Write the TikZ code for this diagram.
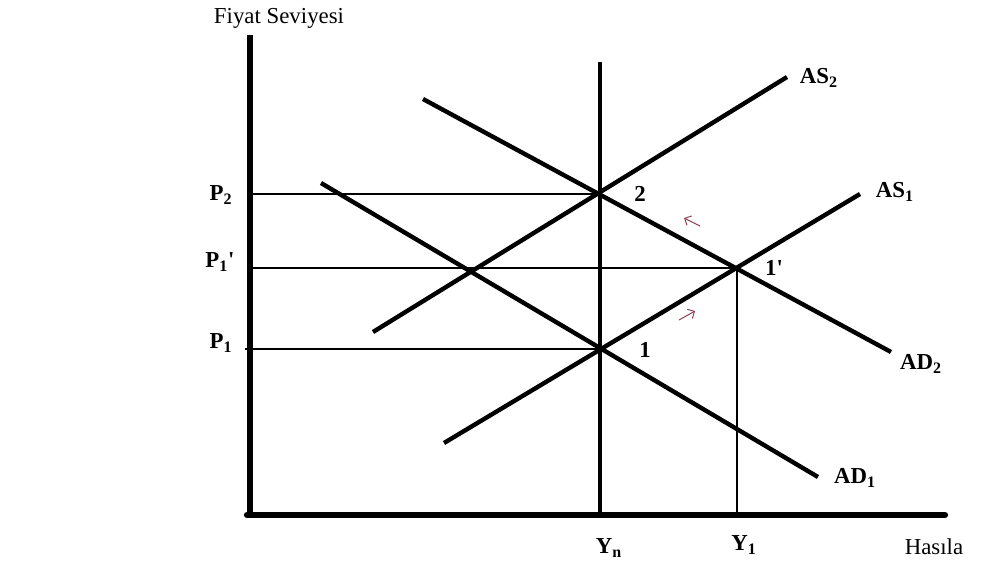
\documentclass[tikz,border=0pt]{standalone}
\usepackage{fontspec}
\setmainfont{Liberation Serif}
\usepackage{tikz}
\usetikzlibrary{arrows.meta}
\definecolor{arrowred}{HTML}{8E3B4F}

\begin{document}
\begin{tikzpicture}[x=0.2mm,y=-0.2mm,>=Stealth,
 axis/.style={line width=3.6pt,draw=black},
 curve/.style={line width=2.5pt,draw=black},
 guide/.style={line width=0.7pt,draw=black},
 lbl/.style={font=\fontsize{13}{15}\selectfont\bfseries,inner sep=1pt},
 txt/.style={font=\fontsize{13}{15}\selectfont,inner sep=1pt},
 drift/.style={->,line width=0.55pt,draw=arrowred,>={Straight Barb[length=3pt]}}]
\useasboundingbox (0,0) rectangle (988,569);
% axes
\coordinate (ytop) at (250,35);
\coordinate (orig) at (250,515);
\coordinate (xend) at (945,515);
\draw[axis] (ytop) -- (orig);
\draw[axis,line cap=round] (247,515) -- (xend);
\node[txt] (yname) at (279,18) {Fiyat Seviyesi};
\node[txt] (xname) at (934,547) {Hasıla};
% equilibrium points
\coordinate (e1) at (600,349);
\coordinate (e2) at (600,194);
\coordinate (e1p) at (737,268);
% potential output
\coordinate (yntop) at (600,62);
\coordinate (ynbot) at (600,515);
\draw[line width=2.1pt] (yntop) -- (ynbot);
% guide lines
\coordinate (p2) at (250,194);
\coordinate (p1p) at (250,268);
\coordinate (p1) at (245,349);
\coordinate (y1) at (737,515);
\draw[guide] (p2) -- (e2);
\draw[guide] (p1p) -- (e1p);
\draw[guide] (p1) -- (e1);
\draw[guide] (e1p) -- (y1);
% curves
\coordinate (as1a) at (444,443);
\coordinate (as1b) at (860,194);
\coordinate (as2a) at (373,332);
\coordinate (as2b) at (787,77);
\coordinate (ad1a) at (321,183);
\coordinate (ad1b) at (818,477);
\coordinate (ad2a) at (423,99);
\coordinate (ad2b) at (891,352);
\draw[curve] (as1a) -- (as1b);
\draw[curve] (as2a) -- (as2b);
\draw[curve] (ad1a) -- (ad1b);
\draw[curve] (ad2a) -- (ad2b);
% labels
\node[lbl] (las1) at (895,192) {AS\textsubscript{1}};
\node[lbl] (las2) at (819,78) {AS\textsubscript{2}};
\node[lbl] (lad1) at (855,478) {AD\textsubscript{1}};
\node[lbl] (lad2) at (921,364) {AD\textsubscript{2}};
\node[lbl] (lp2) at (221,195) {P\textsubscript{2}};
\node[lbl] (lp1p) at (220,262) {P\textsubscript{1}\textquotesingle};
\node[lbl] (lp1) at (221,343) {P\textsubscript{1}};
\node[lbl] (lyn) at (609,548) {Y\textsubscript{n}};
\node[lbl] (ly1) at (744,545) {Y\textsubscript{1}};
\node[lbl] (l2) at (640,194) {2};
\node[lbl] (l1) at (645,350) {1};
\node[lbl] (l1p) at (774,268) {1\textquotesingle};
% adjustment arrows
\coordinate (ua) at (700,226);
\coordinate (ub) at (684,218);
\coordinate (la) at (679,320);
\coordinate (lb) at (695,311);
\draw[drift] (ua) -- (ub);
\draw[drift] (la) -- (lb);
\end{tikzpicture}
\end{document}
